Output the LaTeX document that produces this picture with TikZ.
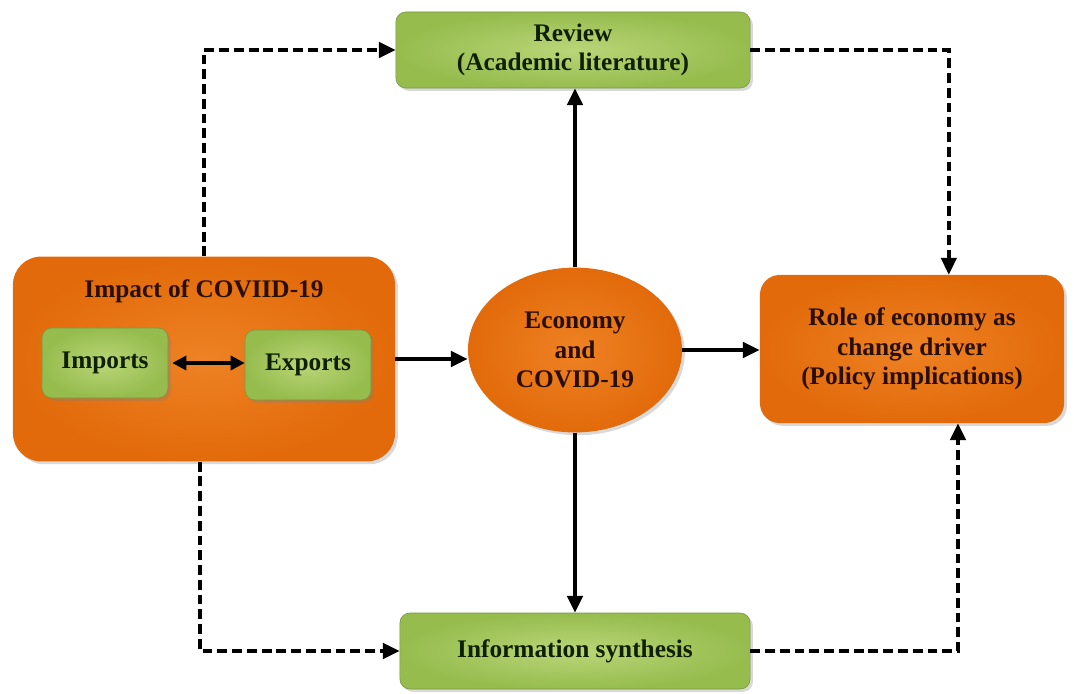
\documentclass[tikz,border=0pt]{standalone}
\usepackage{fontspec}
\setmainfont{Liberation Serif}
\usepackage{tikz}
\usetikzlibrary{arrows.meta,calc,positioning,shapes.geometric,shadows}
\definecolor{ocolor}{RGB}{226,106,10}
\definecolor{olight}{RGB}{238,130,36}
\definecolor{gcolor}{RGB}{150,188,78}
\definecolor{glight}{RGB}{186,214,120}
\definecolor{otext}{RGB}{40,15,0}
\definecolor{gtext}{RGB}{15,32,0}

\begin{document}
\begin{tikzpicture}[x=0.025cm,y=-0.025cm,
  every node/.style={font=\fontsize{18}{21}\selectfont\bfseries,align=center,inner sep=0pt},
  obox/.style={rectangle,rounded corners=14pt,inner color=olight,outer color=ocolor,text=otext,
    drop shadow={opacity=0.3,shadow xshift=2pt,shadow yshift=-2pt}},
  gbox/.style={rectangle,rounded corners=7pt,inner color=glight,outer color=gcolor,text=gtext,
    draw=gcolor!80!black,line width=0.4pt,
    drop shadow={opacity=0.3,shadow xshift=2pt,shadow yshift=-2pt}},
  link/.style={line width=2.4pt,-{Triangle[length=12pt,width=11pt]}},
  dlink/.style={link,dash pattern=on 7pt off 3.5pt}]
  \useasboundingbox (0,0) rectangle (1074,693);
  % boxes
  \node[obox,minimum width=9.55cm,minimum height=5.12cm,rounded corners=20pt] (impact) at (204,359) {};
  \node[text=otext] (impacttitle) at (204,291) {Impact of COVIID-19};
  \node[gbox,minimum width=3.15cm,minimum height=1.75cm] (imports) at (105,363) {Imports};
  \node[gbox,minimum width=3.15cm,minimum height=1.75cm] (exports) at (308,365) {Exports};
  \node[gbox,minimum width=8.85cm,minimum height=1.9cm] (review) at (573,50) {Review\\(Academic literature)};
  \node[gbox,minimum width=8.75cm,minimum height=1.9cm] (synth) at (575,651) {Information synthesis};
  \node[ellipse,inner color=olight,outer color=ocolor,text=otext,minimum width=5.35cm,minimum height=4.12cm,
    drop shadow={opacity=0.3,shadow xshift=2pt,shadow yshift=-2pt}] (econ) at (575,350) {Economy\\and\\COVID-19};
  \node[obox,minimum width=7.6cm,minimum height=3.7cm] (role) at (912,349) {Role of economy as\\change driver\\(Policy implications)};
  % connectors
  \draw[line width=2.4pt,{Triangle[length=10pt,width=10pt]}-{Triangle[length=10pt,width=10pt]}] (imports.east) ++(4,0) coordinate (ie) -- (ie -| exports.west);
  \draw[link] (impact.east) -- (impact.east -| econ.west);
  \draw[link] (econ.east) -- (econ.east -| role.west);
  \draw[link] (econ.north) -- (econ.north |- review.south);
  \draw[link] (econ.south) -- (synth.north);
  \draw[dlink] (impact.north) |- (review.west);
  \draw[dlink] (review.east) -| ([xshift=0.92cm]role.north);
  \draw[dlink] ([xshift=-0.1cm]impact.south) |- (synth.west);
  \draw[dlink] (synth.east) -| ([xshift=1.15cm]role.south);
\end{tikzpicture}
\end{document}
